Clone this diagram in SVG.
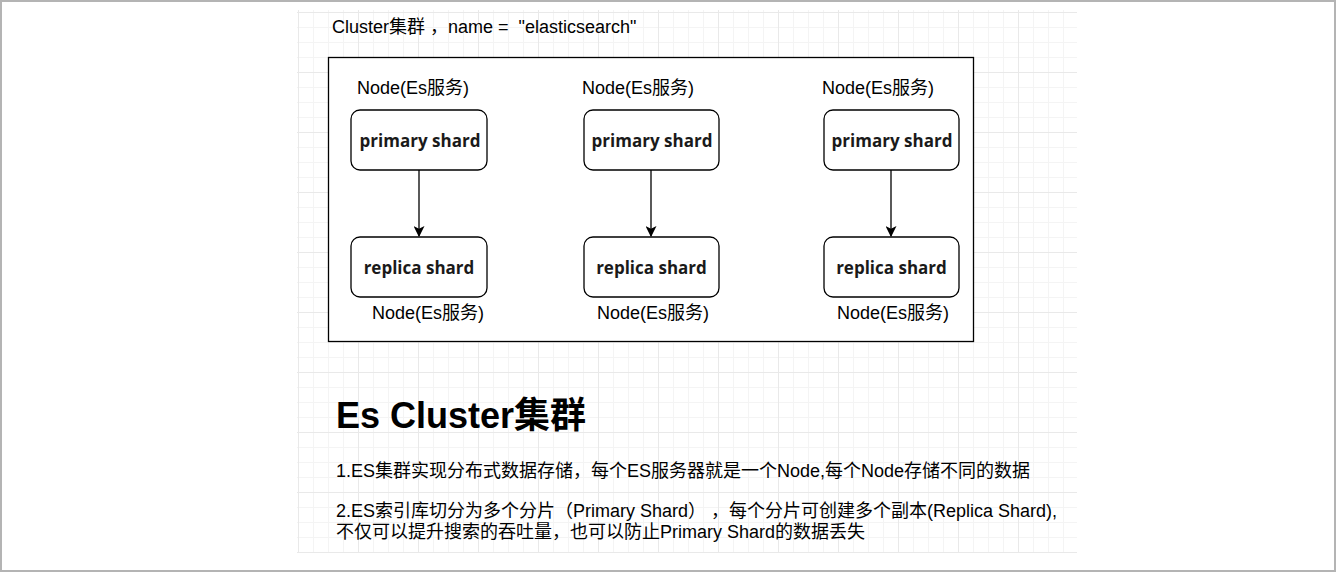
<svg xmlns="http://www.w3.org/2000/svg" width="1337" height="573" viewBox="0 0 1337 573">
<defs>
<pattern id="minor" x="298" y="12" width="15" height="15" patternUnits="userSpaceOnUse">
<path d="M0 0.5H15M0.5 0V15" fill="none" stroke="#f4f4f4" stroke-width="1"/>
</pattern>
<pattern id="major" x="298" y="12" width="60" height="60" patternUnits="userSpaceOnUse">
<path d="M0 0.5H60M0.5 0V60" fill="none" stroke="#e9e9e9" stroke-width="1"/>
</pattern>
<marker id="arr" viewBox="0 0 10 10" refX="9" refY="5" markerWidth="11" markerHeight="11" markerUnits="userSpaceOnUse" orient="auto">
<path d="M0 0L10 5L0 10L2.5 5Z" fill="#000"/>
</marker>
</defs>
<style>
.t{font-family:"Liberation Sans","Noto Sans CJK SC",sans-serif;font-size:18px;fill:#000}
.s{font-family:"Open Sans","Noto Sans",sans-serif;font-size:17px;font-weight:bold;fill:#1a1a1a}
.box{fill:#fff;stroke:#000;stroke-width:1.3}
.h{font-family:"Liberation Sans","Noto Sans CJK SC",sans-serif;font-size:36px;font-weight:bold;fill:#000}
.c{stroke:#000;stroke-width:1.3;fill:none}
</style>
<rect x="0" y="0" width="1337" height="573" fill="#fff"/>
<rect x="297" y="10" width="780" height="543" fill="url(#minor)"/>
<rect x="297" y="10" width="780" height="543" fill="url(#major)"/>
<rect x="1" y="1" width="1334" height="570" fill="none" stroke="#b4b4b4" stroke-width="2"/>

<text class="t" x="332" y="33" font-size="17" xml:space="preserve">Cluster集群 ，name =  "elasticsearch"</text>
<rect id="cluster" x="328.5" y="57.5" width="645" height="284" fill="#fff" stroke="#000" stroke-width="1.3"/>

<g id="connectors">
<line class="c" x1="419" y1="170" x2="419" y2="236" marker-end="url(#arr)"/>
<line class="c" x1="651" y1="170" x2="651" y2="236" marker-end="url(#arr)"/>
<line class="c" x1="891" y1="170" x2="891" y2="236" marker-end="url(#arr)"/>
</g>

<g id="node1">
<text class="t" x="357" y="94">Node(Es服务)</text>
<rect class="box" x="351" y="110" width="136" height="60" rx="9"/>
<text class="s" x="420" y="147" text-anchor="middle">primary shard</text>
</g>
<g id="node2">
<rect class="box" x="351" y="237" width="136" height="60" rx="9"/>
<text class="s" x="419" y="274" text-anchor="middle">replica shard</text>
<text class="t" x="372" y="319">Node(Es服务)</text>
</g>
<g id="node3">
<text class="t" x="582" y="94">Node(Es服务)</text>
<rect class="box" x="584" y="110" width="135" height="60" rx="9"/>
<text class="s" x="652" y="147" text-anchor="middle">primary shard</text>
</g>
<g id="node4">
<rect class="box" x="584" y="237" width="135" height="60" rx="9"/>
<text class="s" x="651.5" y="274" text-anchor="middle">replica shard</text>
<text class="t" x="597" y="319">Node(Es服务)</text>
</g>
<g id="node5">
<text class="t" x="822" y="94">Node(Es服务)</text>
<rect class="box" x="824" y="110" width="135" height="60" rx="9"/>
<text class="s" x="892" y="147" text-anchor="middle">primary shard</text>
</g>
<g id="node6">
<rect class="box" x="824" y="237" width="135" height="60" rx="9"/>
<text class="s" x="891.5" y="274" text-anchor="middle">replica shard</text>
<text class="t" x="837" y="319">Node(Es服务)</text>
</g>

<text class="h" x="336" y="428">Es Cluster集群</text>
<text class="t" x="336" y="477">1.ES集群实现分布式数据存储，每个ES服务器就是一个Node,每个Node存储不同的数据</text>
<text class="t" x="336" y="517" xml:space="preserve">2.ES索引库切分为多个分片（Primary Shard） ，每个分片可创建多个副本(Replica Shard),</text>
<text class="t" x="336" y="538">不仅可以提升搜索的吞吐量，也可以防止Primary Shard的数据丢失</text>
</svg>
